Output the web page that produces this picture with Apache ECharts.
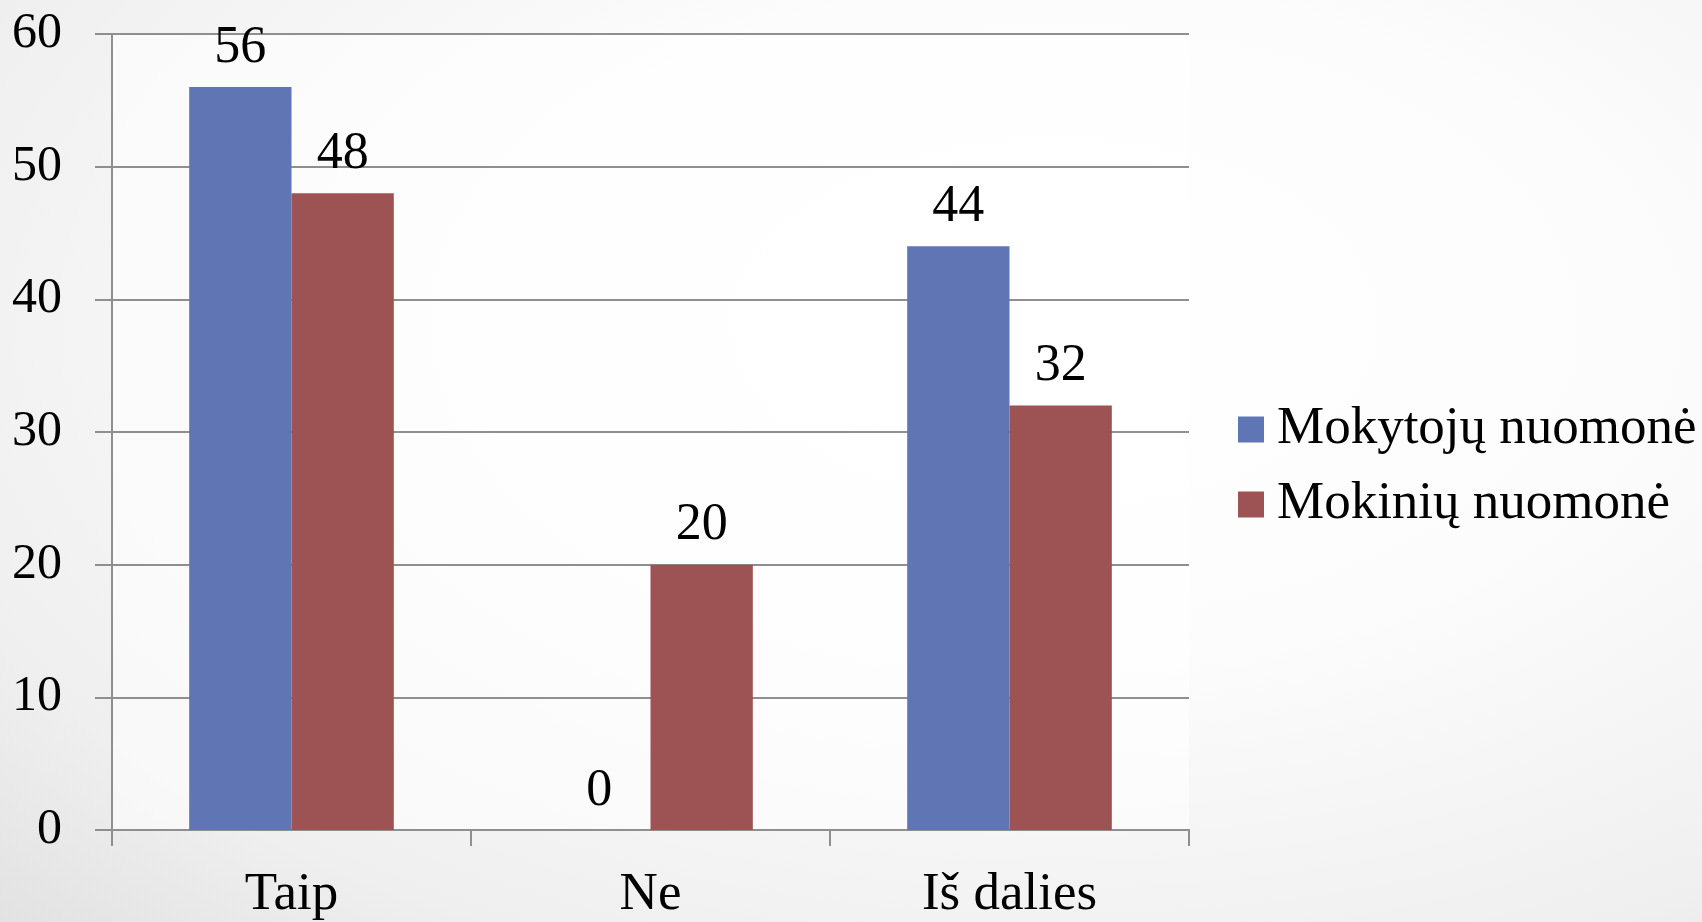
<!DOCTYPE html>
<html>
<head>
<meta charset="utf-8">
<script src="https://cdn.jsdelivr.net/npm/echarts@6/dist/echarts.min.js"></script>
<style>
html,body{margin:0;padding:0;width:1702px;height:922px;overflow:hidden;
background:radial-gradient(ellipse at 62% 35%, #ffffff 0%, #fcfcfc 40%, #efefef 80%, #e2e2e2 100%);}
#c{width:1702px;height:922px;}
</style>
</head>
<body>
<div id="c"></div>
<script>
const categories = ['Taip', 'Ne', 'Iš dalies'];
const seriesNames = ['Mokytojų nuomonė', 'Mokinių nuomonė'];
const teachers = [56, 0, 44];
const students = [48, 20, 32];
const yTicks = [0, 10, 20, 30, 40, 50, 60];

const FONT = 'Liberation Serif';
const GRID = '#8f8f8f';
const chart = echarts.init(document.getElementById('c'), null, {renderer: 'canvas'});

const labelStyle = {
  show: true, position: 'top', distance: 13,
  fontFamily: FONT, fontSize: 52, color: '#000'
};

chart.setOption({
  backgroundColor: 'transparent',
  animation: false,
  textStyle: {fontFamily: FONT},
  grid: {left: 112, right: 513, top: 34, bottom: 91, show: true,
         backgroundColor: 'rgba(255,255,255,0.6)', borderWidth: 0},
  legend: {
    orient: 'vertical', left: 1233, top: 398,
    itemWidth: 26, itemHeight: 26, itemGap: 22,
    icon: 'rect',
    textStyle: {fontFamily: FONT, fontSize: 53, color: '#000', padding: [0, 0, 0, 8]},
    data: seriesNames
  },
  xAxis: {
    type: 'category', data: categories,
    axisLine: {lineStyle: {color: GRID, width: 2}},
    axisTick: {show: true, length: 16, lineStyle: {color: GRID, width: 2}},
    axisLabel: {fontFamily: FONT, fontSize: 53, color: '#000', margin: 39}
  },
  yAxis: {
    type: 'value', min: yTicks[0], max: yTicks[yTicks.length - 1], interval: 10,
    axisLine: {show: true, lineStyle: {color: GRID, width: 2}},
    axisTick: {show: true, length: 17, lineStyle: {color: GRID, width: 2}},
    splitLine: {show: true, lineStyle: {color: GRID, width: 2}},
    axisLabel: {fontFamily: FONT, fontSize: 50, color: '#000', margin: 50}
  },
  series: [
    {name: seriesNames[0], type: 'bar', data: teachers, barGap: '0%', barCategoryGap: '43%',
     itemStyle: {color: '#6076B4'}, label: labelStyle},
    {name: seriesNames[1], type: 'bar', data: students, barGap: '0%', barCategoryGap: '43%',
     itemStyle: {color: '#9D5253'}, label: labelStyle}
  ]
});
</script>
</body>
</html>
